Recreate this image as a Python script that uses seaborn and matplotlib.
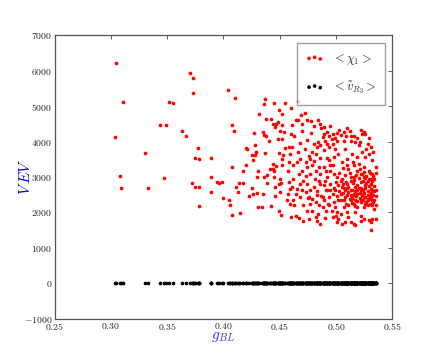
import numpy as np
import pandas as pd
import seaborn as sns
import matplotlib
matplotlib.use("Agg")
import matplotlib.pyplot as plt

# ---------------------------------------------------------------------------
# Data: (g_BL, <chi_1>) pairs, grouped by region
# ---------------------------------------------------------------------------
sparse_pts = [
    (0.305, 6210), (0.311, 5130), (0.304, 4120), (0.308, 3040), (0.309, 2700),
    (0.330, 3690), (0.333, 2680), (0.347, 2960), (0.344, 4480), (0.349, 4480),
    (0.352, 5110), (0.355, 5080), (0.370, 5930), (0.373, 5810), (0.373, 5360),
    (0.363, 4310), (0.367, 4150), (0.377, 3830), (0.375, 3550), (0.378, 3500),
    (0.372, 2820), (0.375, 2730), (0.378, 2730), (0.378, 2190), (0.389, 3550),
    (0.389, 3010), (0.389, 2590), (0.394, 2870), (0.396, 2820), (0.399, 2870),
    (0.400, 2420), (0.405, 2340), (0.406, 2220), (0.408, 1940), (0.415, 1970),
    (0.404, 5450), (0.410, 5220), (0.408, 4460), (0.409, 4310), (0.408, 3270),
    (0.411, 2730), (0.414, 2820), (0.417, 2820), (0.413, 2590), (0.417, 3180),
]
mid_pts = [
    (0.420, 3330), (0.420, 3830), (0.421, 3780), (0.425, 3610), (0.428, 3610),
    (0.426, 3470), (0.428, 3890), (0.429, 3720), (0.427, 4230), (0.425, 2680),
    (0.426, 2530), (0.423, 2450), (0.430, 2560), (0.435, 2530), (0.431, 2140),
    (0.434, 2140), (0.430, 2990), (0.431, 3180), (0.436, 2990), (0.432, 4770),
    (0.436, 5050), (0.437, 5190), (0.445, 5080), (0.438, 4650), (0.442, 4630),
    (0.444, 4510), (0.446, 4400), (0.447, 4510), (0.448, 4540), (0.452, 4770),
    (0.452, 4460), (0.435, 4260), (0.436, 4200), (0.438, 4150), (0.440, 4030),
    (0.448, 4060), (0.452, 4060), (0.450, 4290), (0.454, 4260), (0.437, 3690),
    (0.449, 3690), (0.455, 3830), (0.458, 3860), (0.459, 3660), (0.453, 3610),
    (0.452, 3500), (0.458, 3410), (0.444, 3380), (0.447, 3300), (0.452, 3330),
    (0.441, 3240), (0.444, 3240), (0.445, 3160), (0.457, 3160), (0.439, 3070),
    (0.450, 2930), (0.451, 2820), (0.449, 2790), (0.446, 2730), (0.458, 2870),
    (0.439, 2820), (0.445, 2990), (0.457, 2530), (0.459, 2650), (0.450, 2590),
    (0.446, 2450), (0.442, 2190), (0.449, 2050), (0.451, 1940), (0.456, 2340),
    (0.459, 2250), (0.460, 1880), (0.455, 5080), (0.460, 4950), (0.466, 5150),
    (0.472, 4800), (0.449, 4880),
]
band_pts = [
    (0.469, 4740), (0.470, 4500), (0.464, 4600), (0.466, 4600), (0.461, 4460),
    (0.460, 4220), (0.478, 4580), (0.484, 4600), (0.486, 4500), (0.487, 4390),
    (0.489, 4220), (0.488, 4130), (0.490, 4030), (0.492, 4270), (0.494, 4150),
    (0.496, 4080), (0.497, 4220), (0.501, 4240), (0.503, 4330), (0.507, 4270),
    (0.510, 4380), (0.512, 4300), (0.509, 4170), (0.516, 4170), (0.519, 4110),
    (0.522, 4330), (0.525, 4270), (0.523, 4220), (0.526, 4220), (0.529, 4110),
    (0.517, 3990), (0.513, 4030), (0.507, 4030), (0.501, 4030), (0.497, 3940),
    (0.492, 3940), (0.486, 3890), (0.483, 3840), (0.480, 3940), (0.479, 3700),
    (0.482, 3660), (0.477, 3510), (0.473, 3420), (0.468, 3510), (0.465, 3420),
    (0.462, 3330), (0.470, 3180), (0.474, 3280), (0.467, 3090), (0.462, 2950),
    (0.461, 2710), (0.465, 2670), (0.470, 2620), (0.464, 2530), (0.468, 2430),
    (0.462, 2340), (0.471, 2200), (0.464, 1910), (0.471, 1770), (0.476, 1820),
    (0.482, 1870), (0.483, 1750), (0.486, 1680), (0.491, 2050), (0.494, 2200),
    (0.499, 2150), (0.497, 1870), (0.501, 2010), (0.504, 1960), (0.502, 1820),
    (0.510, 2010), (0.505, 1680), (0.511, 1870), (0.513, 1720), (0.517, 2010),
    (0.522, 1910), (0.522, 1770), (0.525, 1820), (0.529, 1790), (0.531, 1720),
    (0.532, 1820), (0.535, 1820), (0.531, 1490), (0.516, 1680), (0.517, 1630),
    (0.508, 1720), (0.501, 1720),
]
core_pts = [
    (0.491, 2620), (0.489, 2760), (0.486, 2810), (0.480, 2710), (0.477, 2620),
    (0.476, 2430), (0.479, 2380), (0.483, 2480), (0.488, 2430), (0.489, 2340),
    (0.494, 2430), (0.497, 2530), (0.499, 2620), (0.504, 2530), (0.505, 2710),
    (0.507, 2340), (0.510, 2480), (0.513, 2620), (0.514, 2430), (0.517, 2340),
    (0.519, 2530), (0.522, 2620), (0.525, 2430), (0.528, 2340), (0.531, 2430),
    (0.534, 2340), (0.535, 2620), (0.532, 2620), (0.531, 2810), (0.528, 2900),
    (0.525, 3000), (0.522, 3090), (0.519, 3180), (0.516, 3000), (0.513, 2900),
    (0.510, 2810), (0.504, 2900), (0.501, 3000), (0.498, 3090), (0.495, 3180),
    (0.492, 3000), (0.489, 3280), (0.486, 3090), (0.485, 2900), (0.494, 3470),
    (0.498, 3560), (0.502, 3660), (0.505, 3420), (0.510, 3510), (0.514, 3660),
    (0.519, 3560), (0.523, 3700), (0.526, 3560), (0.529, 3660), (0.532, 3470),
    (0.535, 3280), (0.533, 3700), (0.531, 3840), (0.528, 3940), (0.520, 3890),
    (0.508, 3800), (0.499, 3800), (0.511, 3230), (0.516, 3330), (0.520, 3370),
    (0.525, 3280), (0.529, 3180), (0.532, 3090), (0.534, 2950), (0.526, 2760),
    (0.523, 2620), (0.517, 2710), (0.511, 2200), (0.507, 2150), (0.519, 2150),
    (0.525, 2150), (0.528, 2200), (0.532, 2200), (0.534, 2100), (0.535, 2200),
    (0.516, 2240), (0.522, 2340), (0.526, 2240), (0.513, 2340), (0.508, 2620),
    (0.502, 2340), (0.498, 2290), (0.495, 2620), (0.492, 2620), (0.488, 2150),
    (0.485, 2200), (0.482, 2290), (0.477, 2240), (0.474, 2050), (0.473, 2570),
    (0.474, 2810), (0.471, 2900), (0.468, 2810), (0.473, 3040), (0.477, 3090),
    (0.482, 3180), (0.479, 3330), (0.485, 3280), (0.491, 3180), (0.495, 3330),
]
dense_pts = [
    (0.501, 2470), (0.502, 2780), (0.503, 3120), (0.504, 2350), (0.505, 2950),
    (0.506, 2560), (0.506, 3250), (0.507, 2680), (0.508, 2440), (0.508, 3060),
    (0.509, 2250), (0.509, 2860), (0.510, 3340), (0.511, 2580), (0.511, 2730),
    (0.512, 2380), (0.512, 3120), (0.513, 2480), (0.513, 2990), (0.514, 2640),
    (0.514, 2260), (0.515, 2820), (0.515, 3410), (0.516, 2520), (0.516, 2910),
    (0.517, 2190), (0.517, 2600), (0.518, 3050), (0.518, 2460), (0.519, 2770),
    (0.519, 2330), (0.520, 2690), (0.520, 2960), (0.521, 2410), (0.521, 3230),
    (0.521, 2560), (0.522, 2850), (0.522, 2280), (0.523, 2480), (0.523, 3080),
    (0.524, 2640), (0.524, 2360), (0.524, 2900), (0.525, 2540), (0.525, 3150),
    (0.526, 2430), (0.526, 2680), (0.527, 2290), (0.527, 2830), (0.527, 3020),
    (0.528, 2500), (0.528, 2600), (0.529, 2380), (0.529, 2740), (0.529, 2950),
    (0.530, 2460), (0.530, 2250), (0.530, 3100), (0.531, 2560), (0.531, 2660),
    (0.532, 2360), (0.532, 2880), (0.533, 2500), (0.533, 3020), (0.533, 2280),
    (0.534, 2600), (0.534, 2740), (0.535, 2450), (0.535, 3100), (0.526, 2980),
    (0.519, 2620), (0.514, 2400), (0.510, 2700), (0.506, 2800), (0.503, 2600),
    (0.500, 2870), (0.517, 2480), (0.522, 2700), (0.528, 2380), (0.531, 2950),
    (0.461, 3850), (0.463, 4150), (0.466, 3700), (0.468, 3950), (0.470, 4300),
    (0.472, 3800), (0.474, 4050), (0.476, 3600), (0.478, 4250), (0.480, 3450),
    (0.481, 2950), (0.483, 2600), (0.484, 4000), (0.486, 3550), (0.487, 2450),
    (0.489, 3750), (0.490, 2900), (0.492, 3550), (0.493, 2250), (0.494, 3850),
    (0.495, 2800), (0.497, 3350), (0.498, 2700), (0.499, 4100), (0.463, 2200),
    (0.467, 1850), (0.475, 2400), (0.479, 2050), (0.484, 1950), (0.490, 1850),
    (0.496, 2050), (0.500, 1900), (0.474, 4600), (0.480, 4450), (0.489, 4400),
    (0.495, 4450), (0.504, 4200), (0.513, 4150), (0.521, 4000), (0.527, 3800),
]

xticks = [0.25, 0.30, 0.35, 0.40, 0.45, 0.50, 0.55]
yticks = [-1000, 0, 1000, 2000, 3000, 4000, 5000, 6000, 7000]
label_chi = r"$<\chi_1>$"
label_vr = r"$<\tilde{v}_{R_3}>$"

pts = sparse_pts + mid_pts + band_pts + core_pts + dense_pts
g_bl = [p[0] for p in pts]
chi1 = [p[1] for p in pts]
vr = [0.0] * len(g_bl)   # right-handed sneutrino VEV sits at zero everywhere

# ---------------------------------------------------------------------------
# Plot
# ---------------------------------------------------------------------------
sns.set_style("white")
plt.rcParams["mathtext.fontset"] = "cm"
plt.rcParams["font.family"] = ["DejaVu Serif"]

fig, ax = plt.subplots(figsize=(4.36, 3.54), dpi=100)
fig.subplots_adjust(left=0.125, right=0.9, top=0.9, bottom=0.1)

# two separate calls so each series gets its own collection (legend shows 3 dots)
sns.scatterplot(x=g_bl, y=chi1, color="red", s=7, linewidth=0,
                label=label_chi, ax=ax)
sns.scatterplot(x=g_bl, y=vr, color="black", s=7, linewidth=0,
                label=label_vr, ax=ax)

ax.set_xlim(0.25, 0.55)
ax.set_ylim(-1000, 7000)
ax.set_xticks(xticks)
ax.set_xticklabels([f"${t:.2f}$" for t in xticks])
ax.set_yticks(yticks)
ax.set_yticklabels([f"${t}$" for t in yticks])
ax.tick_params(direction="in", length=3, width=0.6, labelsize=7,
               top=True, right=True, pad=1.5, colors="#444444",
               labelcolor="#222222")
for sp in ax.spines.values():
    sp.set_color("#555555")
    sp.set_linewidth(0.9)

ax.set_xlabel(r"$g_{BL}$", color="#3333ff", fontsize=11, labelpad=-1)
ax.set_ylabel(r"$V\,EV$", color="blue", fontsize=11)
ax.yaxis.set_label_coords(-0.065, 0.5)

leg = ax.legend(loc="upper right", scatterpoints=3, fontsize=9,
                fancybox=False, frameon=True, borderaxespad=0.6,
                handletextpad=0.6, labelspacing=1.0, handlelength=1.5,
                borderpad=0.7)
leg.get_frame().set_edgecolor("#888888")
leg.get_frame().set_linewidth(1.0)

fig.savefig("out.png", dpi=100)
